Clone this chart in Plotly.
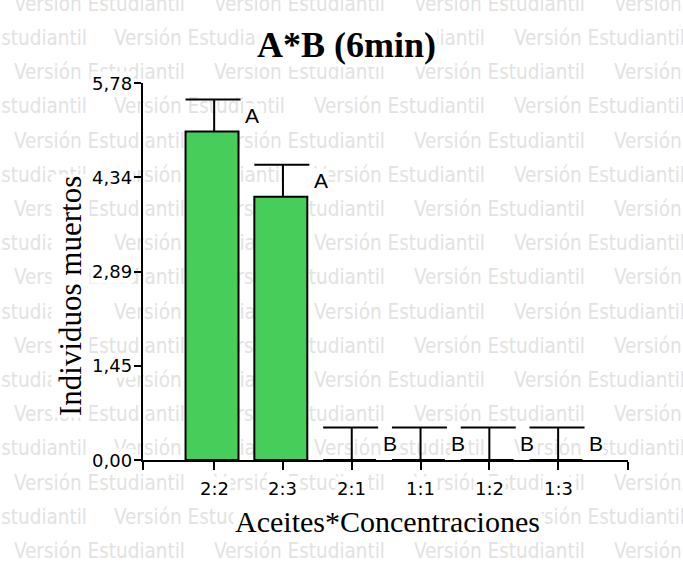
import plotly.graph_objects as go

# ---------------- data ----------------
categories = ['2:2', '2:3', '2:1', '1:1', '1:2', '1:3']
means = [5.04, 4.04, 0.0, 0.0, 0.0, 0.0]
errors = [0.49, 0.49, 0.50, 0.50, 0.50, 0.50]
letters = ['A', 'A', 'B', 'B', 'B', 'B']
y_tick_vals = [0.0, 1.445, 2.89, 4.335, 5.78]
y_tick_text = ['0,00', '1,45', '2,89', '4,34', '5,78']
title_text = 'A*B (6min)'
x_title = 'Aceites*Concentraciones'
y_title = 'Individuos muertos'
watermark_text = 'Versión Estudiantil'

# ---------------- layout constants ----------------
W, H = 683, 566
GREEN = 'rgb(71,206,90)'
X_RANGE = [-1.03, 6.02]
Y_RANGE = [0, 5.78]
BAR_W = 0.77
BAR_OFF = -0.416
CAP_L, CAP_R = -0.416, 0.384
LETTER_DX = 0.55
WM_WIDTH = 173


def px(x):
    return x / W


def py(y):
    return 1 - y / H


xs = list(range(len(categories)))

fig = go.Figure()

# ---- watermark (full-figure pixel axes, drawn first = underneath) ----
# copies starting inside the page are anchored at their left end,
# copies starting left of the page are anchored at their right end
wmL_x, wmL_y, wmL_t = [], [], []
wmR_x, wmR_y, wmR_t = [], [], []
for k in range(17):
    yy = 5.5 + 34.22 * k
    x0 = 14 if k % 2 == 0 else -86
    for j in range(5):
        xl = x0 + 200 * j
        if xl >= W:
            continue
        if xl >= 0:
            wmL_x.append(xl)
            wmL_y.append(yy)
            wmL_t.append(watermark_text)
        else:
            wmR_x.append(xl + WM_WIDTH)
            wmR_y.append(yy)
            wmR_t.append(watermark_text)
wm_font = dict(family='DejaVu Sans Condensed, Liberation Sans', size=20.5, color='#e2e2e2')
fig.add_trace(go.Scatter(
    x=wmL_x, y=wmL_y, text=wmL_t, mode='text', textposition='middle right',
    textfont=wm_font, hoverinfo='skip', showlegend=False, cliponaxis=False,
    xaxis='x', yaxis='y'))
fig.add_trace(go.Scatter(
    x=wmR_x, y=wmR_y, text=wmR_t, mode='text', textposition='middle left',
    textfont=wm_font, hoverinfo='skip', showlegend=False, cliponaxis=False,
    xaxis='x', yaxis='y'))

# ---- bars ----
fig.add_trace(go.Bar(
    x=xs, y=means, width=BAR_W, offset=BAR_OFF,
    marker=dict(color=GREEN, line=dict(color='black', width=2)),
    showlegend=False, hoverinfo='skip', xaxis='x2', yaxis='y2'))

# ---- error bars (one-sided, cap shifted like the original) ----
ex, ey = [], []
for i, (m, e) in enumerate(zip(means, errors)):
    ex += [i, i, None, i + CAP_L, i + CAP_R, None]
    ey += [m, m + e, None, m + e, m + e, None]
fig.add_trace(go.Scatter(
    x=ex, y=ey, mode='lines', line=dict(color='black', width=2),
    showlegend=False, hoverinfo='skip', xaxis='x2', yaxis='y2', cliponaxis=False))

annotations = []
# letters
for i, (m, e, L) in enumerate(zip(means, errors, letters)):
    annotations.append(dict(
        x=i + LETTER_DX, y=m + e / 2, xref='x2', yref='y2', text=L, showarrow=False,
        xanchor='center', yanchor='middle', bgcolor='white', borderpad=0,
        font=dict(family='Liberation Sans, Arial', size=21, color='black')))
# x tick labels
for i, c in enumerate(categories):
    annotations.append(dict(
        x=i, y=py(488), xref='x2', yref='paper', text=c, showarrow=False,
        xanchor='center', yanchor='middle', bgcolor='white', borderpad=1,
        font=dict(family='DejaVu Sans', size=18, color='black')))
# y tick labels
for v, t in zip(y_tick_vals, y_tick_text):
    annotations.append(dict(
        x=px(134), y=v, xref='paper', yref='y2', text=t, showarrow=False,
        xanchor='right', yanchor='middle', bgcolor='white', borderpad=1,
        font=dict(family='DejaVu Sans', size=18, color='black')))
# title
annotations.append(dict(
    x=px(346), y=py(45), xref='paper', yref='paper', text='<b>' + title_text + '</b>',
    showarrow=False, xanchor='center', yanchor='middle', bgcolor='white', borderpad=1,
    font=dict(family='Liberation Serif, Times New Roman', size=36, color='black')))
# x title
annotations.append(dict(
    x=px(387), y=py(521), xref='paper', yref='paper', text=x_title,
    showarrow=False, xanchor='center', yanchor='middle', bgcolor='white', borderpad=1,
    font=dict(family='Liberation Serif, Times New Roman', size=30, color='black')))
# y title
annotations.append(dict(
    x=px(70), y=py(296), xref='paper', yref='paper', text=y_title, textangle=-90,
    showarrow=False, xanchor='center', yanchor='middle', bgcolor='white', borderpad=1,
    font=dict(family='Liberation Serif, Times New Roman', size=31, color='black')))

x_tickvals = [X_RANGE[0]] + xs + [X_RANGE[1]]

fig.update_layout(
    width=W, height=H, autosize=False,
    margin=dict(l=0, r=0, t=0, b=0, pad=0),
    paper_bgcolor='white', plot_bgcolor='rgba(0,0,0,0)',
    showlegend=False,
    xaxis=dict(domain=[0, 1], range=[0, W], visible=False, fixedrange=True),
    yaxis=dict(domain=[0, 1], range=[H, 0], visible=False, fixedrange=True),
    xaxis2=dict(domain=[px(143.3), px(628.3)], range=X_RANGE, anchor='y2',
                showline=True, linecolor='black', linewidth=2,
                ticks='outside', ticklen=8, tickwidth=2, tickcolor='black',
                tickvals=x_tickvals, showticklabels=False,
                showgrid=False, zeroline=False),
    yaxis2=dict(domain=[py(460), py(83.3)], range=Y_RANGE, anchor='x2',
                showline=True, linecolor='black', linewidth=2,
                ticks='outside', ticklen=7, tickwidth=2, tickcolor='black',
                tickvals=y_tick_vals, showticklabels=False,
                showgrid=False, zeroline=False),
    annotations=annotations,
)

fig.write_html('out.html')
